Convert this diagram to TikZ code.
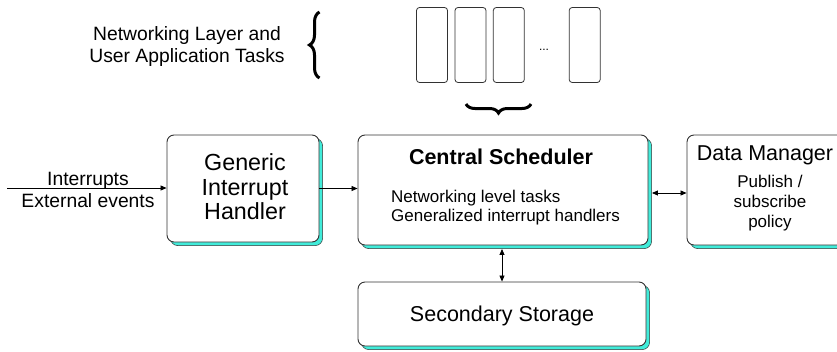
\documentclass[tikz,border=0pt]{standalone}
\usepackage{fontspec}
\setmainfont{Liberation Sans}
\usetikzlibrary{arrows.meta,shadows,decorations.pathreplacing}
\definecolor{shadowc}{RGB}{64,236,218}
\definecolor{edgec}{RGB}{50,50,50}
\tikzset{
  mainbox/.style={draw=edgec, line width=0.9pt, rounded corners=7pt, fill=white,
    copy shadow={shadow xshift=3.5pt, shadow yshift=-3.5pt, fill=shadowc, draw=edgec, line width=0.5pt}},
  taskbox/.style={draw=edgec, line width=0.8pt, rounded corners=3pt, minimum width=31pt, minimum height=75pt, inner sep=0pt},
  bigtxt/.style={align=center, inner sep=0pt, font=\fontsize{21.5}{24.5}\selectfont},
  midtxt/.style={align=center, inner sep=0pt, font=\fontsize{19.3}{22}\selectfont},
  smalltxt/.style={inner sep=0pt, font=\fontsize{17}{19}\selectfont},
  conn/.style={line width=0.8pt, -{Triangle[length=6pt,width=5pt]}},
  dconn/.style={line width=0.8pt, {Triangle[length=6pt,width=5pt]}-{Triangle[length=6pt,width=5pt]}},
  bracestyle/.style={decorate, line width=3pt}
}
\begin{document}
\begin{tikzpicture}[x=1pt,y=-1pt]
\useasboundingbox (0,0) rectangle (837,351);
\clip (0,0) rectangle (837,351);
% top task boxes
\node[taskbox] (t1) at (432,45) {};
\node[taskbox] (t2) at (470.5,45) {};
\node[taskbox] (t3) at (508.8,45) {};
\node[taskbox] (t4) at (584.7,45) {};
\node[inner sep=0pt, font=\fontsize{12}{12}\selectfont] (dots) at (544,50) {...};
% label and braces
\node[midtxt] (nl) at (187,47) {Networking Layer and\\User Application Tasks};
\coordinate (lb1) at (319.5,78);
\coordinate (lb2) at (319.5,12);
\draw[bracestyle, decoration={brace, amplitude=10pt}] (lb1) -- (lb2);
\coordinate (bb1) at (531,104);
\coordinate (bb2) at (466,104);
\draw[bracestyle, decoration={brace, amplitude=9pt}] (bb1) -- (bb2);
% main boxes
\node[mainbox, minimum width=152pt, minimum height=107pt] (gih) at (243,188.5) {};
\node[bigtxt, font=\fontsize{23.3}{24.5}\selectfont] (gihtxt) at (245,187) {Generic\\Interrupt\\Handler};
\node[mainbox, minimum width=290pt, minimum height=110pt] (cs) at (503,190) {};
\node[bigtxt, font=\fontsize{21.5}{24.5}\selectfont\bfseries] (cstitle) at (501,157) {Central Scheduler};
\node[smalltxt, align=left, anchor=west] (cstxt) at (391,207.5) {Networking level tasks\\Generalized interrupt handlers};
\node[mainbox, minimum width=175pt, minimum height=110pt] (dm) at (774.5,190) {};
\node[bigtxt] (dmtitle) at (765,155) {Data Manager};
\node[smalltxt, align=center, font=\fontsize{17}{20}\selectfont] (dmtxt) at (770,203) {Publish /\\subscribe\\policy};
\node[mainbox, minimum width=288pt, minimum height=64pt] (ss) at (502,314) {};
\node[bigtxt] (sstxt) at (502,316) {Secondary Storage};
% incoming
\coordinate (inl) at (7,188);
\node[midtxt] (intxt) at (88,190) {Interrupts\\External events};
% connectors
\draw[conn] (inl) -- (inl -| gih.west);
\draw[conn] (gih.east) -- (gih.east -| cs.west);
\draw[dconn] ([xshift=3.5pt,yshift=-3pt]cs.east) -- ([yshift=-3pt]dm.west);
\draw[dconn] ([yshift=-3.5pt]cs.south -| ss.north) -- (ss.north);
\end{tikzpicture}
\end{document}
